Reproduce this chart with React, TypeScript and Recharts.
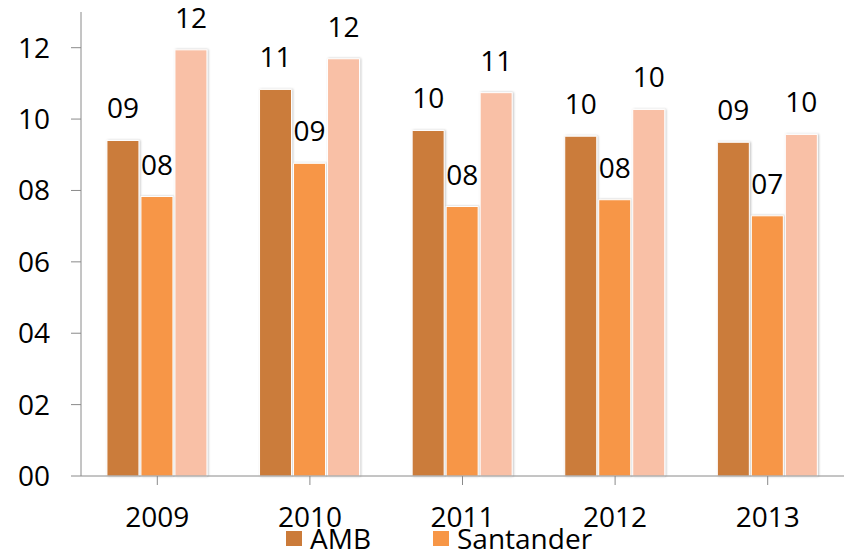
import React from 'react';
import { BarChart, Bar, XAxis, YAxis, Legend, LabelList } from 'recharts';

const years = ['2009', '2010', '2011', '2012', '2013'];
const amb = [9.4, 10.83, 9.68, 9.52, 9.35];
const santander = [7.83, 8.76, 7.55, 7.74, 7.29];
const colombia = [11.94, 11.69, 10.74, 10.27, 9.57];
const yTicks = [0, 2, 4, 6, 8, 10, 12];
const legendNames = ['AMB', 'Santander'];

const data = years.map((year, i) => ({
  year,
  AMB: amb[i],
  Santander: santander[i],
  Colombia: colombia[i],
}));

const FONT = '"Open Sans", sans-serif';
const AXIS = '#8a8a8a';
const FS = 28;

const twoDigits = (v: any) => String(Math.round(Number(v))).padStart(2, '0');

const LegendBox = ({ payload }: any) => (
  <div style={{ display: 'flex', alignItems: 'center', fontFamily: FONT, fontSize: FS, lineHeight: '30px', color: '#000' }}>
    {(payload || [])
      .filter((entry: any) => legendNames.includes(entry.value))
      .map((entry: any, i: number) => (
        <div key={entry.value} style={{ display: 'flex', alignItems: 'center', width: i === 0 ? 147 : 'auto' }}>
          <span style={{ display: 'inline-block', width: 16, height: 15, background: entry.color, marginRight: 8 }} />
          <span>{entry.value}</span>
        </div>
      ))}
  </div>
);

const App: React.FC = () => {
  return (
    <div style={{ position: 'absolute', left: 0, top: 0, background: '#fff' }}>
      <BarChart
        width={850}
        height={554}
        data={data}
        margin={{ top: 12, right: 6, bottom: 0, left: 0 }}
        barCategoryGap="17%"
        barGap={2}
        style={{ fontFamily: FONT }}
      >
        <defs>
          <filter id="barShadow" x="-20%" y="-5%" width="140%" height="110%">
            <feDropShadow dx="1" dy="0" stdDeviation="1.2" floodColor="#000" floodOpacity="0.25" />
          </filter>
        </defs>
        <XAxis
          dataKey="year"
          height={78}
          tickSize={9}
          tickMargin={22}
          axisLine={{ stroke: AXIS }}
          tickLine={{ stroke: AXIS }}
          tick={{ fill: '#000', fontSize: FS }}
        />
        <YAxis
          width={81}
          domain={[0, 13]}
          ticks={yTicks}
          interval={0}
          tickSize={10}
          tickMargin={21}
          tickFormatter={twoDigits}
          axisLine={{ stroke: AXIS }}
          tickLine={{ stroke: AXIS }}
          tick={{ fill: '#000', fontSize: FS }}
        />
        <Legend
          layout="horizontal"
          verticalAlign="middle"
          align="center"
          content={<LegendBox />}
          wrapperStyle={{ top: 523, left: 286, width: 'auto' }}
        />
        <Bar dataKey="AMB" fill="#CB7B3A" stroke="#fff" strokeWidth={1} filter="url(#barShadow)" isAnimationActive={false}>
          <LabelList dataKey="AMB" position="top" offset={22} formatter={twoDigits} fill="#000" fontSize={FS} />
        </Bar>
        <Bar dataKey="Santander" fill="#F79646" stroke="#fff" strokeWidth={1} filter="url(#barShadow)" isAnimationActive={false}>
          <LabelList dataKey="Santander" position="top" offset={22} formatter={twoDigits} fill="#000" fontSize={FS} />
        </Bar>
        <Bar dataKey="Colombia" fill="#F9C0A6" stroke="#fff" strokeWidth={1} filter="url(#barShadow)" legendType="none" isAnimationActive={false}>
          <LabelList dataKey="Colombia" position="top" offset={22} formatter={twoDigits} fill="#000" fontSize={FS} />
        </Bar>
      </BarChart>
    </div>
  );
};

export default App;
